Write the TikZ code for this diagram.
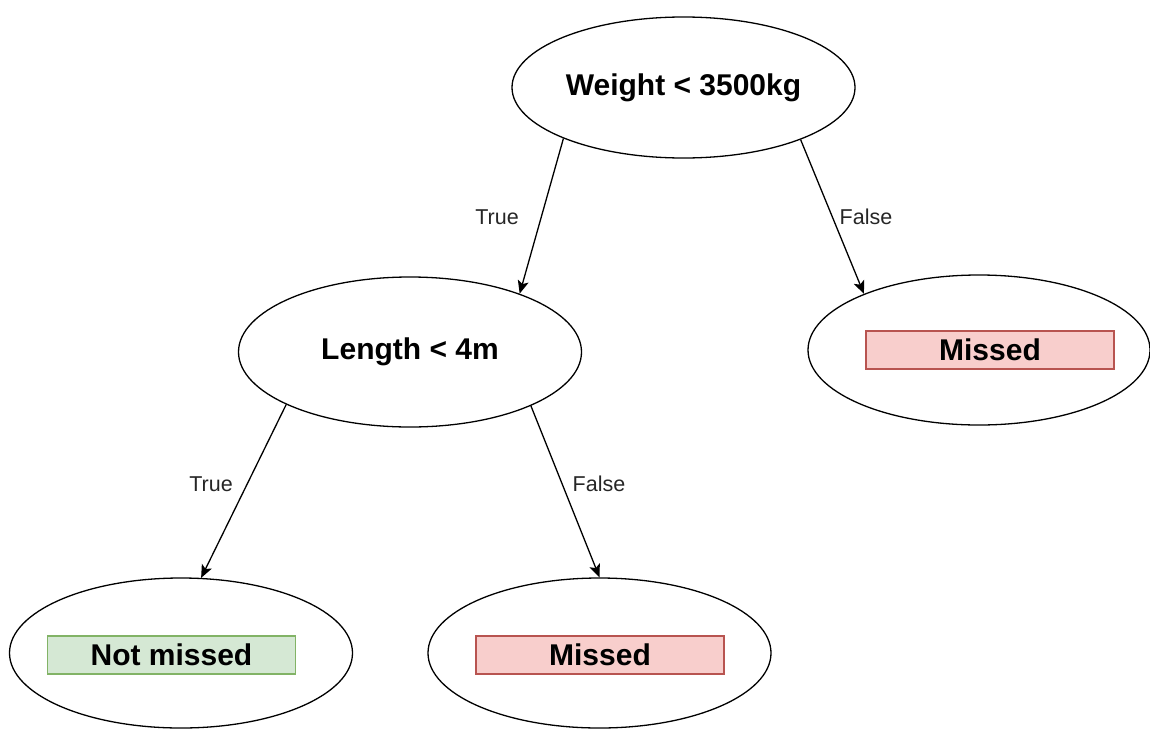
\documentclass[tikz,border=0pt]{standalone}
\usepackage{fontspec}
\setmainfont{Liberation Sans}
\usetikzlibrary{shapes.geometric,arrows.meta}
\definecolor{redfill}{HTML}{F8CECC}
\definecolor{redline}{HTML}{B85450}
\definecolor{greenfill}{HTML}{D5E8D4}
\definecolor{greenline}{HTML}{82B366}
\tikzset{
  decision/.style={ellipse, draw=black, line width=1.3pt, minimum width=343pt, minimum height=150pt, inner sep=0pt, font=\fontsize{30}{36}\selectfont\bfseries},
  outcome/.style={rectangle, line width=1.2pt, minimum width=248pt, minimum height=38pt, inner sep=0pt, font=\fontsize{30}{36}\selectfont\bfseries},
  missbox/.style={outcome, draw=redline, fill=redfill},
  okbox/.style={outcome, draw=greenline, fill=greenfill},
  edgelbl/.style={inner sep=0pt, font=\fontsize{21.5}{26}\selectfont, text=black!85},
  arr/.style={line width=1.3pt, -{Stealth[length=13pt,width=11pt,inset=3pt]}}
}
\begin{document}
\begin{tikzpicture}[x=1pt,y=-1pt]
\useasboundingbox (0,0) rectangle (1150,731);
\node[decision, minimum height=141pt] (w) at (683.5,87.5) {Weight < 3500kg};
\node[decision] (l) at (410,352) {Length < 4m};
\node[decision, minimum width=342pt] (mr) at (979,350) {};
\node[decision] (nm) at (181,653) {};
\node[decision] (mb) at (599.5,653) {};
\node[missbox] (mrt) at (990,350) {Missed};
\node[okbox] (nmt) at (171.5,655) {Not missed};
\node[missbox] (mbt) at (600,655) {Missed};
\draw[arr] (w.203.3) -- (l.28.2);
\draw[arr] (w.336.5) -- (mr.154);
\draw[arr] (l.203.3) -- (nm.75);
\draw[arr] (l.336.5) -- (mb.90);
\node[edgelbl] (t1) at (497,217) {True};
\node[edgelbl] (f1) at (866,217) {False};
\node[edgelbl] (t2) at (211,484) {True};
\node[edgelbl] (f2) at (599,484) {False};
\end{tikzpicture}
\end{document}
